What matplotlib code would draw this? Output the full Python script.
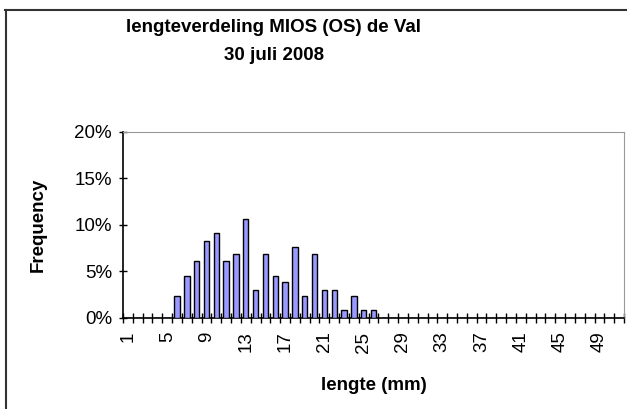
import matplotlib
matplotlib.use("Agg")
import matplotlib.pyplot as plt
import numpy as np

plt.rcParams['font.family'] = ['Liberation Sans', 'DejaVu Sans']

# length classes (mm) and relative frequency (%)
lengths = list(range(1, 52))
freq_pct = [0, 0, 0, 0, 0, 2.3, 4.5, 6.1, 8.3, 9.1, 6.1, 6.8, 10.6, 3.0, 6.8,
            4.5, 3.8, 7.6, 2.3, 6.8, 3.0, 3.0, 0.8, 2.3, 0.8, 0.8] + [0] * 25
y_ticks = [0, 5, 10, 15, 20]
y_tick_labels = ["0%", "5%", "10%", "15%", "20%"]

fig = plt.figure(figsize=(6.27, 4.09), dpi=100)
ax = fig.add_axes([123 / 627, 1 - 317.7 / 409, 501 / 627, 186 / 409])

idx = np.arange(len(lengths))
ax.bar(idx, freq_pct, width=0.55, color="#9999ff", edgecolor="black",
       linewidth=1.0, zorder=3)

ax.set_xlim(-0.5, len(lengths) - 0.5)
ax.set_ylim(0, 20)

# y axis
ax.set_yticks(y_ticks)
ax.set_yticklabels(y_tick_labels, fontsize=13.5)
ax.tick_params(axis="y", direction="inout", length=6, width=1, pad=5)

# x axis: ticks on category boundaries, labels every 4th class
ax.set_xticks(np.arange(len(lengths) + 1) - 0.5)
ax.set_xticklabels([])
ax.tick_params(axis="x", which="major", direction="inout", length=7, width=1)
lab_pos = [i for i in idx if i % 4 == 0]
ax.set_xticks(lab_pos, minor=True)
ax.set_xticklabels([str(lengths[i]) for i in lab_pos], minor=True,
                   rotation=90, fontsize=13.5)
ax.tick_params(axis="x", which="minor", length=0, pad=10)

for side in ["top", "right"]:
    ax.spines[side].set_color("#999999")
for side in ["left", "bottom"]:
    ax.spines[side].set_color("black")
    ax.spines[side].set_linewidth(1.2)

ax.set_ylabel("Frequency", fontsize=13.5, fontweight="bold")
ax.yaxis.set_label_coords(-0.17, 0.5)
ax.set_xlabel("lengte (mm)", fontsize=13.5, fontweight="bold")
ax.xaxis.set_label_coords(0.5, -0.362)
ax.xaxis.label.set_va("center")
ax.yaxis.label.set_va("center")

fig.text(274 / 627, 1 - 27 / 409, "lengteverdeling MIOS (OS) de Val",
         ha="center", va="center", fontsize=13.5, fontweight="bold")
fig.text(274 / 627, 1 - 55 / 409, "30 juli 2008",
         ha="center", va="center", fontsize=13.5, fontweight="bold")

# chart border
fig.add_artist(plt.Line2D([5.5 / 627, 5.5 / 627], [0, 1 - 10 / 409],
                          color="#333333", linewidth=1.5))
fig.add_artist(plt.Line2D([5 / 627, 1], [1 - 10 / 409, 1 - 10 / 409],
                          color="#333333", linewidth=1.5))

fig.savefig("out.png")
